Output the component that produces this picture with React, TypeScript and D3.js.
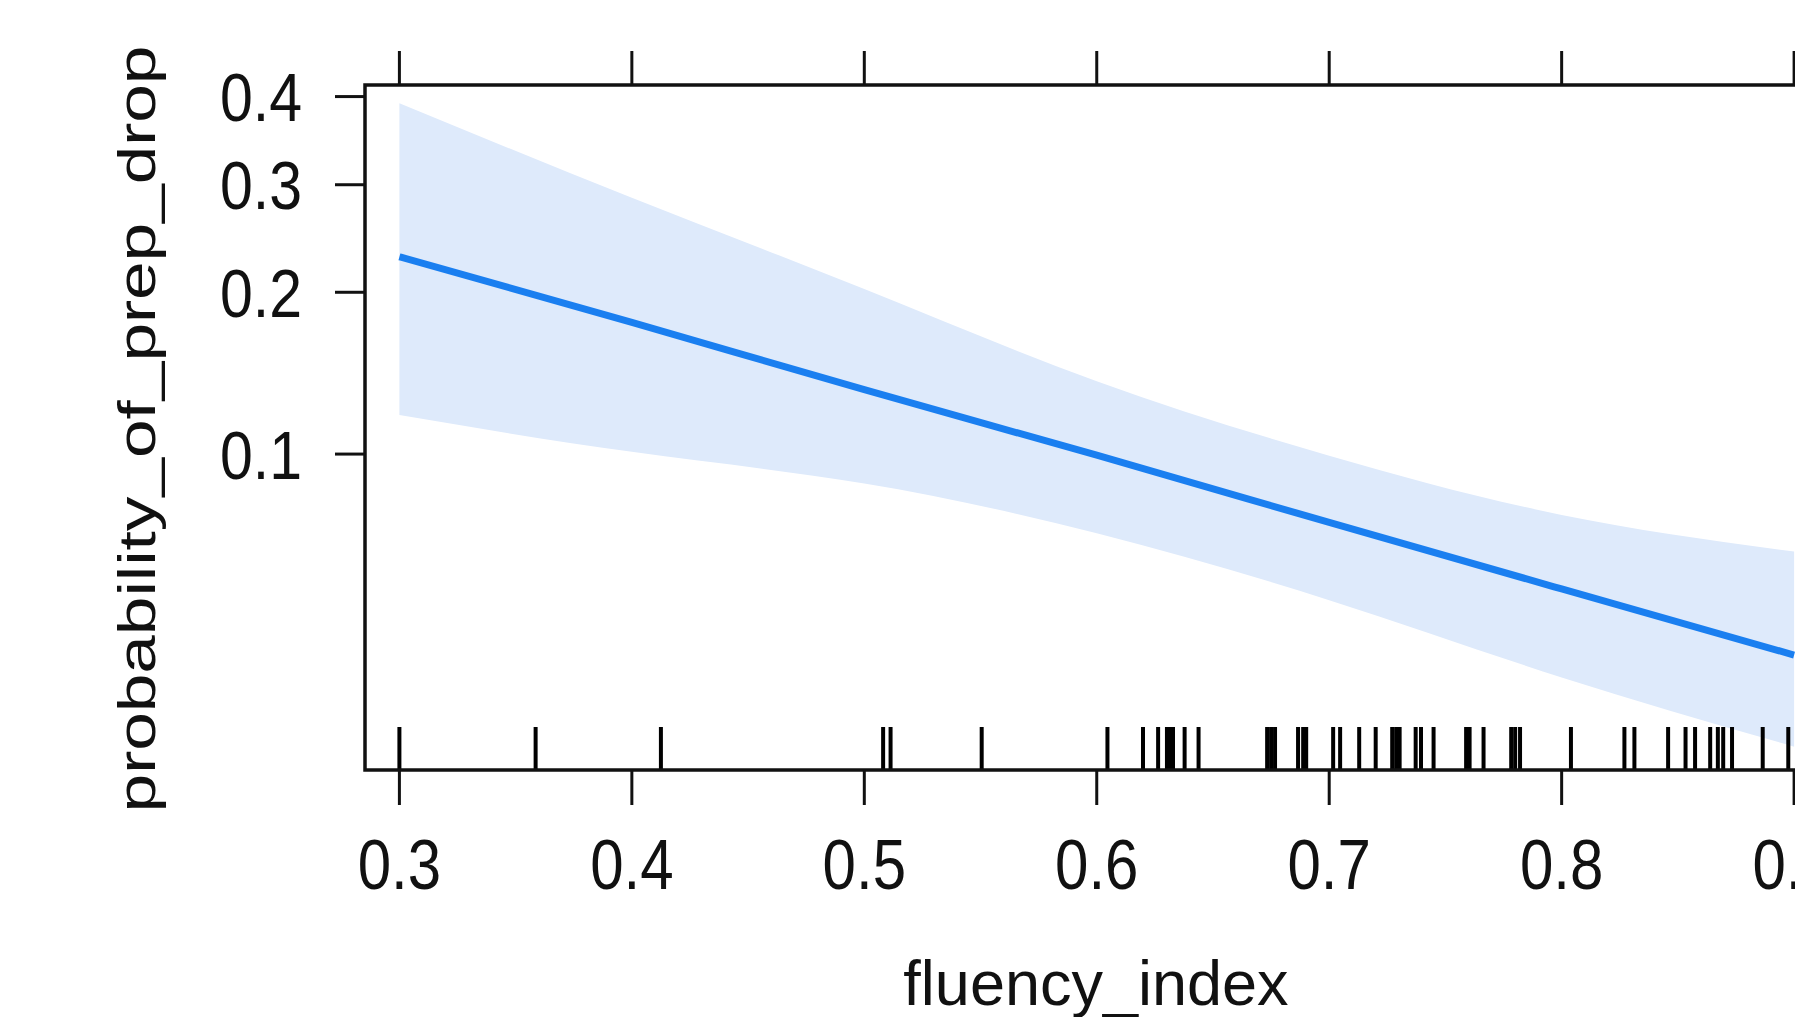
import React from "react";
import * as d3 from "d3";

// effect of fluency_index on probability_of_prep_drop (logit scale)
const gridX = [0.3, 0.4, 0.5, 0.6, 0.7, 0.8, 0.9];
const fitProb = [0.23, 0.177, 0.133, 0.0995, 0.0731, 0.0535, 0.039];
const lowerProb = [0.119, 0.101, 0.0875, 0.0695, 0.0507, 0.035, 0.025];
const upperProb = [0.392, 0.2865, 0.2026, 0.138, 0.0993, 0.0757, 0.0638];

const rugValues = [
  0.3, 0.3586, 0.4125, 0.5081, 0.5113, 0.5505, 0.6046, 0.6199, 0.6264, 0.6302,
  0.6315, 0.6328, 0.6378, 0.6438, 0.6733, 0.675, 0.6767, 0.6866, 0.6888, 0.6901,
  0.7017, 0.7047, 0.7129, 0.72, 0.7271, 0.7288, 0.7303, 0.7372, 0.7395, 0.7449,
  0.7589, 0.7604, 0.7664, 0.7783, 0.78, 0.7821, 0.804, 0.827, 0.8313, 0.8458,
  0.8533, 0.8574, 0.8639, 0.8672, 0.8695, 0.8733, 0.8865, 0.8975,
];

const xTicks = [0.3, 0.4, 0.5, 0.6, 0.7, 0.8, 0.9];
const yTicks = [0.1, 0.2, 0.3, 0.4];

const W = 1795;
const H = 1017;
const font = "'Liberation Sans', Arial, Helvetica, sans-serif";

const logit = (p: number) => Math.log(p / (1 - p));

export default function App() {
  const x = d3.scaleLinear().domain([0.2852, 0.9148]).range([365, 1828.5]);
  const yLin = d3
    .scaleLinear()
    .domain([logit(0.0223), logit(0.414)])
    .range([770, 85]);
  const y = (p: number) => yLin(logit(p));

  const [left, right] = x.range();
  const [bottom, top] = yLin.range();

  const rows = gridX.map((v, i) => ({
    x: v,
    fit: fitProb[i],
    lo: lowerProb[i],
    hi: upperProb[i],
  }));

  const band = d3
    .area<any>()
    .x((d) => x(d.x))
    .y0((d) => y(d.lo))
    .y1((d) => y(d.hi))
    .curve(d3.curveNatural);
  const line = d3
    .line<any>()
    .x((d) => x(d.x))
    .y((d) => y(d.fit))
    .curve(d3.curveNatural);

  return (
    <svg
      width={W}
      height={H}
      style={{ position: "absolute", left: 0, top: 0, background: "#fff" }}
    >
      <path d={band(rows) || ""} fill="#deeafb" stroke="none" />
      <path d={line(rows) || ""} fill="none" stroke="#1a7ff0" strokeWidth={7} />

      {/* rug */}
      {rugValues.map((v, i) => (
        <line
          key={"r" + i}
          x1={x(v)}
          x2={x(v)}
          y1={bottom}
          y2={bottom - 43}
          stroke="#000"
          strokeWidth={4}
        />
      ))}

      {/* panel box */}
      <rect
        x={left}
        y={top}
        width={right - left}
        height={bottom - top}
        fill="none"
        stroke="#111"
        strokeWidth={3.5}
      />

      {/* x axis ticks top and bottom */}
      {xTicks.map((t) => (
        <g key={"x" + t}>
          <line x1={x(t)} x2={x(t)} y1={top} y2={top - 34} stroke="#111" strokeWidth={3} />
          <line x1={x(t)} x2={x(t)} y1={bottom} y2={bottom + 35} stroke="#111" strokeWidth={3} />
          <text
            transform={`translate(${x(t)},889) scale(1,1.16)`}
            textAnchor="middle"
            fontFamily={font}
            fontSize={60}
            fill="#111"
          >
            {d3.format(".1f")(t)}
          </text>
        </g>
      ))}

      {/* y axis ticks */}
      {yTicks.map((t) => (
        <g key={"y" + t}>
          <line x1={left} x2={left - 30} y1={y(t)} y2={y(t)} stroke="#111" strokeWidth={3} />
          <text
            transform={`translate(302,${y(t)}) scale(1,1.16)`}
            textAnchor="end"
            dy="0.36em"
            fontFamily={font}
            fontSize={59}
            fill="#111"
          >
            {d3.format(".1f")(t)}
          </text>
        </g>
      ))}

      <text
        x={1096}
        y={1005}
        textAnchor="middle"
        fontFamily={font}
        fontSize={63}
        fill="#111"
      >
        fluency_index
      </text>
      <text
        transform="translate(155,429) rotate(-90) scale(1.333,1)"
        textAnchor="middle"
        fontFamily={font}
        fontSize={52}
        fill="#111"
      >
        probability_of_prep_drop
      </text>
    </svg>
  );
}
